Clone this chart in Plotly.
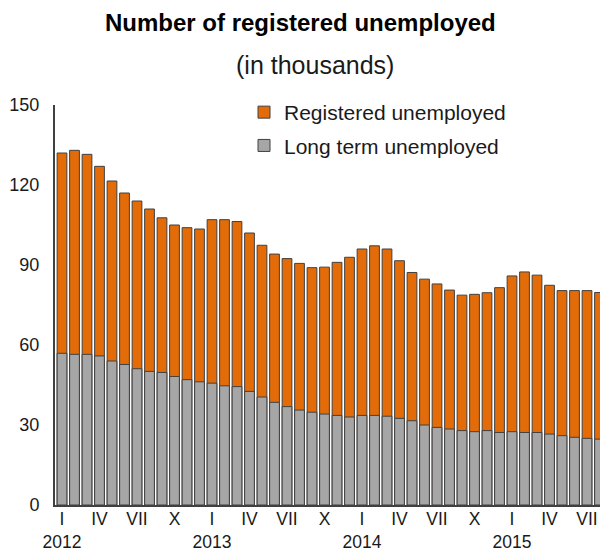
import plotly.graph_objects as go

months = [f"{y}-{m:02d}" for y in (2012, 2013, 2014, 2015) for m in range(1, 13)][:44]

registered = [132, 133, 131.5, 127, 121.5, 117, 114, 111, 107.7, 105, 104, 103.5,
              107, 107, 106.3, 102, 97.4, 94.1, 92.4, 90.6, 89.0, 89.2, 91.0, 92.9,
              96.0, 97.2, 96.0, 91.6, 87.2, 84.7, 82.9, 80.6, 78.7, 79.0, 79.6, 81.5,
              85.9, 87.4, 86.2, 82.4, 80.4, 80.4, 80.4, 79.7]
long_term = [56.9, 56.5, 56.5, 55.9, 54.0, 52.7, 51.1, 50.1, 49.7, 48.2, 47.0, 46.2,
             45.7, 44.7, 44.4, 42.6, 40.5, 38.5, 36.9, 35.6, 34.8, 34.1, 33.6, 33.0,
             33.6, 33.6, 33.3, 32.5, 31.6, 30.0, 29.1, 28.5, 27.9, 27.5, 27.9, 27.2,
             27.5, 27.2, 27.2, 26.6, 26.0, 25.4, 25.0, 24.7]

tick_vals = ["2012-01", "2012-04", "2012-07", "2012-10",
             "2013-01", "2013-04", "2013-07", "2013-10",
             "2014-01", "2014-04", "2014-07", "2014-10",
             "2015-01", "2015-04", "2015-07"]
tick_text = ["I<br>2012", "IV", "VII", "X",
             "I<br>2013", "IV", "VII", "X",
             "I<br>2014", "IV", "VII", "X",
             "I<br>2015", "IV", "VII"]

ORANGE = "#E36C09"
GREY = "#A6A6A6"
EDGE = "#404040"
FONT = "Liberation Sans, Arial, sans-serif"

W, H = 600, 551
ML, MR, MT, MB = 55, 0, 105, 46
PW, PH = W - ML - MR, H - MT - MB


def px_to_paper(fx, fy):
    return (fx - ML) / PW, (H - MB - fy) / PH


fig = go.Figure()
fig.add_trace(go.Bar(x=months, y=registered, name="Registered unemployed",
                     marker=dict(color=ORANGE, line=dict(color=EDGE, width=1)),
                     width=0.78, legendgroup="a"))
fig.add_trace(go.Bar(x=months, y=long_term, name="Long term unemployed",
                     marker=dict(color=GREY, line=dict(color=EDGE, width=1)),
                     width=0.78, legendgroup="b"))

tx, ty = px_to_paper(300, 23)
sx, sy = px_to_paper(315, 65)
lx, ly = px_to_paper(244, 92)

fig.update_layout(
    width=W, height=H,
    barmode="overlay",
    plot_bgcolor="white", paper_bgcolor="white",
    margin=dict(l=ML, r=MR, t=MT, b=MB, autoexpand=False),
    font=dict(family=FONT, size=18, color="#1a1a1a"),
    showlegend=True,
    legend=dict(x=lx, y=ly, xanchor="left", yanchor="top",
                bgcolor="rgba(0,0,0,0)", font=dict(size=21, color="#1a1a1a"),
                traceorder="grouped", tracegroupgap=3),
    annotations=[
        dict(text="<b>Number of registered unemployed</b>", x=tx, y=ty,
             xref="paper", yref="paper", xanchor="center", yanchor="middle",
             showarrow=False, font=dict(size=24, color="#000")),
        dict(text="(in thousands)", x=sx, y=sy,
             xref="paper", yref="paper", xanchor="center", yanchor="middle",
             showarrow=False, font=dict(size=25, color="#1a1a1a")),
    ],
)

fig.update_xaxes(type="category", range=[-0.56, 43.04], tickmode="array",
                 tickvals=tick_vals, ticktext=tick_text, ticks="",
                 showline=True, linecolor=EDGE, linewidth=2, showgrid=False,
                 automargin=False, ticklabelstandoff=-3, tickfont=dict(size=17.5))
fig.update_yaxes(range=[0, 150], tickvals=[0, 30, 60, 90, 120, 150], ticks="",
                 showline=True, linecolor=EDGE, linewidth=2, showgrid=False,
                 zeroline=False, automargin=False, ticklabelstandoff=10,
                 tickfont=dict(size=18))

fig.write_html(
    "out.html",
    config={"displayModeBar": False},
    post_script="document.body.style.margin='0';"
                "document.documentElement.style.overflow='hidden';"
                "document.body.style.overflow='hidden';",
)
